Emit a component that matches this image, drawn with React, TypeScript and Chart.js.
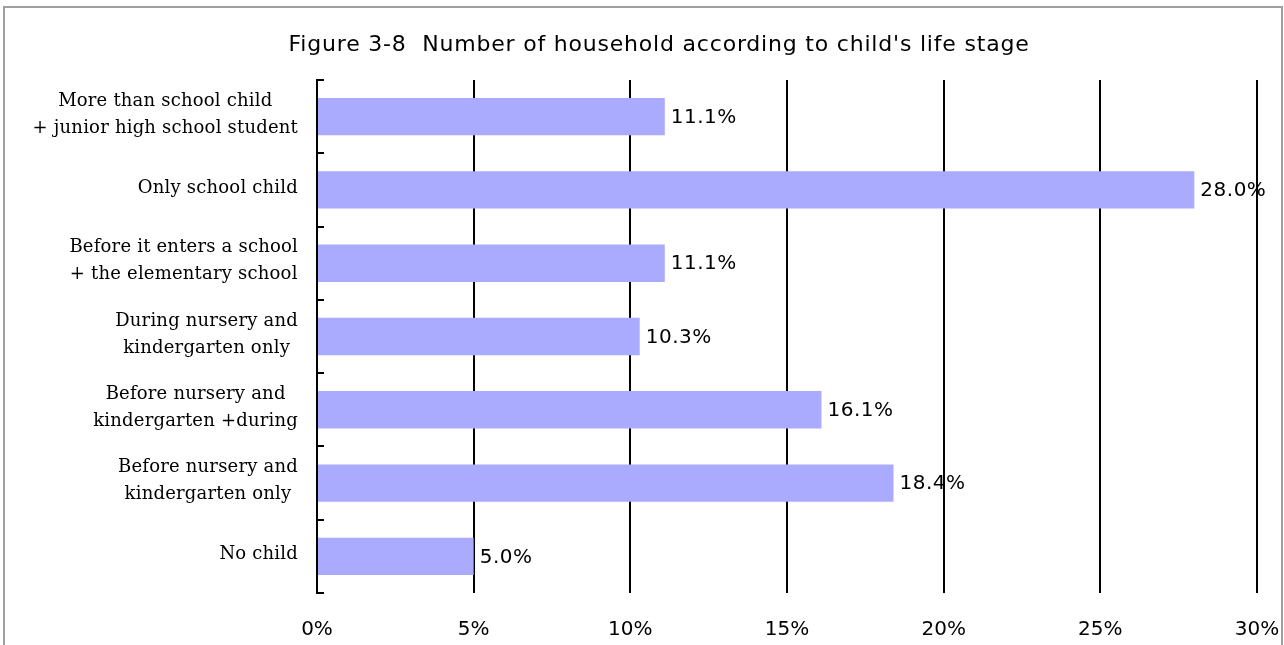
import React, { useEffect, useRef } from "react";
import { Chart, registerables } from "chart.js";

Chart.register(...registerables);

const TITLE = "Figure 3-8  Number of household according to child's life stage";
const categories: string[][] = [
  ["More than school child", "+ junior high school student"],
  ["Only school child"],
  ["Before it enters a school", "+ the elementary school"],
  ["During nursery and", "kindergarten only"],
  ["Before nursery and", "kindergarten +during"],
  ["Before nursery and", "kindergarten only"],
  ["No child"],
];
const shares: number[] = [11.1, 28.0, 11.1, 10.3, 16.1, 18.4, 5.0];
const xTicks: number[] = [0, 5, 10, 15, 20, 25, 30];

const SANS = "'DejaVu Sans', sans-serif";
const SERIF = "'DejaVu Serif', serif";

const customDraw = {
  id: "customDraw",
  afterDatasetsDraw(chart: any) {
    const ctx = chart.ctx;
    const y = chart.scales.y;
    const meta = chart.getDatasetMeta(0);
    ctx.save();
    // value labels
    ctx.font = `20px ${SANS}`;
    (ctx as any).letterSpacing = "0.5px";
    ctx.fillStyle = "#000";
    ctx.textAlign = "left";
    ctx.textBaseline = "middle";
    meta.data.forEach((bar: any, i: number) => {
      ctx.fillText(shares[i].toFixed(1) + "%", bar.x + 6, bar.y + 1);
    });
    (ctx as any).letterSpacing = "0px";
    // inner ticks on y axis
    const n = categories.length;
    const step = (y.bottom - y.top) / n;
    ctx.strokeStyle = "#000";
    ctx.lineWidth = 2;
    for (let i = 0; i <= n; i++) {
      const py = Math.round(y.top + i * step);
      ctx.beginPath();
      ctx.moveTo(chart.chartArea.left, py);
      ctx.lineTo(chart.chartArea.left + 7, py);
      ctx.stroke();
    }
    // category labels
    ctx.font = `18px ${SERIF}`;
    (ctx as any).letterSpacing = "0.2px";
    ctx.textAlign = "center";
    const rightEdge = 298;
    const lh = 27;
    categories.forEach((lines, i) => {
      const cy = y.getPixelForTick(i);
      const maxW = Math.max(...lines.map((l) => ctx.measureText(l).width));
      const cx = rightEdge - maxW / 2;
      lines.forEach((l, k) => {
        const ly = cy + (k - (lines.length - 1) / 2) * lh - 2;
        ctx.fillText(l, cx, ly);
      });
    });
    // title
    ctx.font = `22px ${SANS}`;
    (ctx as any).letterSpacing = "0.8px";
    ctx.textAlign = "center";
    ctx.fillText(TITLE, 659, 45);
    ctx.restore();
  },
};

export default function App() {
  const ref = useRef<HTMLCanvasElement>(null);
  useEffect(() => {
    if (!ref.current) return;
    const chart = new Chart(ref.current, {
      type: "bar",
      data: {
        labels: categories.map((c) => c.join(" ")),
        datasets: [
          {
            data: shares,
            backgroundColor: "#aaaaff",
            borderWidth: 0,
            barPercentage: 0.51,
            categoryPercentage: 1,
          },
        ],
      },
      options: {
        indexAxis: "y",
        animation: false,
        responsive: false,
        maintainAspectRatio: false,
        layout: { padding: { left: 0, right: 27, top: 80, bottom: 0 } },
        plugins: {
          legend: { display: false },
          title: { display: false },
          tooltip: { enabled: false },
        },
        scales: {
          x: {
            min: 0,
            max: 30,
            afterBuildTicks: (s: any) => {
              s.ticks = xTicks.map((v) => ({ value: v }));
            },
            afterFit: (s: any) => {
              s.height = 52;
              s.paddingLeft = 0;
              s.paddingRight = 0;
            },
            border: { display: false },
            grid: {
              color: (c: any) => (c.tick && c.tick.value === 0 ? "rgba(0,0,0,0)" : "#000"),
              lineWidth: 2,
              drawTicks: false,
            },
            ticks: {
              color: "#000",
              font: { family: SANS, size: 20 },
              padding: 25,
              callback: (v: any) => v + "%",
            },
          },
          y: {
            afterFit: (s: any) => {
              s.width = 317;
              s.paddingTop = 0;
              s.paddingBottom = 0;
            },
            border: { display: true, color: "#000", width: 2 },
            grid: { display: false },
            ticks: { display: false },
          },
        },
      },
      plugins: [customDraw],
    });
    return () => chart.destroy();
  }, []);
  return (
    <div style={{ position: "fixed", left: 0, top: 0, width: 1284, height: 645, background: "#fff", overflow: "hidden" }}>
      <div
        style={{
          position: "absolute",
          left: 3,
          top: 6,
          width: 1280,
          height: 700,
          border: "2px solid #a0a0a0",
          boxSizing: "border-box",
        }}
      />
      <canvas ref={ref} width={1284} height={645} style={{ position: "absolute", left: 0, top: 0 }} />
    </div>
  );
}
